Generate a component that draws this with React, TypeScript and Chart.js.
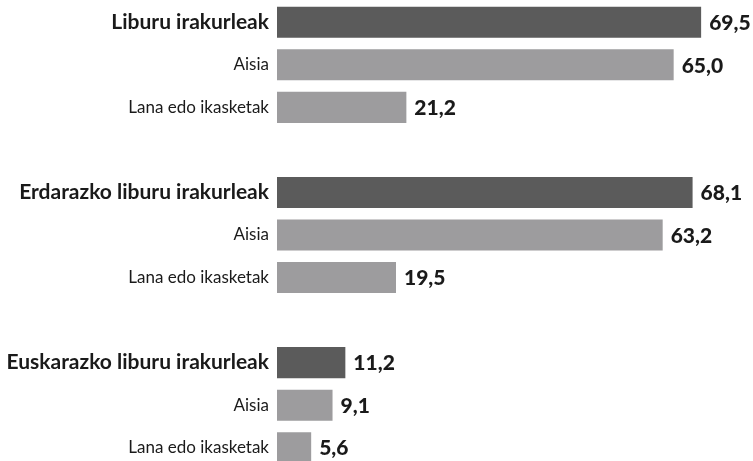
import React, { useEffect, useRef } from "react";
import { Chart, registerables } from "chart.js";

Chart.register(...registerables);

const categories = [
  "Liburu irakurleak",
  "Aisia",
  "Lana edo ikasketak",
  "",
  "Erdarazko liburu irakurleak",
  "Aisia",
  "Lana edo ikasketak",
  "",
  "Euskarazko liburu irakurleak",
  "Aisia",
  "Lana edo ikasketak",
];
const values: (number | null)[] = [69.5, 65.0, 21.2, null, 68.1, 63.2, 19.5, null, 11.2, 9.1, 5.6];
const isHeader = [true, false, false, false, true, false, false, false, true, false, false];

const DARK = "#5b5b5b";
const LIGHT = "#9d9c9e";
const FONT = "Lato, 'Liberation Sans', sans-serif";

const valueLabels = {
  id: "valueLabels",
  afterDatasetsDraw(chart: any) {
    const ctx = chart.ctx;
    const meta = chart.getDatasetMeta(0);
    ctx.save();
    ctx.font = `900 21px ${FONT}`;
    ctx.fillStyle = "#1a1a1a";
    ctx.textBaseline = "middle";
    ctx.textAlign = "left";
    meta.data.forEach((bar: any, i: number) => {
      const v = values[i];
      if (v === null || v === undefined) return;
      const txt = v.toFixed(1).replace(".", ",");
      const w = ctx.measureText(txt).width;
      let x = bar.x + 8;
      if (x + w > chart.width) x = chart.width - w;
      ctx.fillText(txt, x, bar.y + 1);
    });
    ctx.restore();
  },
};

export default function App() {
  const ref = useRef<HTMLCanvasElement>(null);
  useEffect(() => {
    if (!ref.current) return;
    const chart = new Chart(ref.current, {
      type: "bar",
      data: {
        labels: categories,
        datasets: [
          {
            data: values as any,
            backgroundColor: isHeader.map((h) => (h ? DARK : LIGHT)),
            barPercentage: 0.73,
            categoryPercentage: 1,
          },
        ],
      },
      options: {
        indexAxis: "y",
        animation: false,
        responsive: false,
        maintainAspectRatio: false,
        layout: { padding: { top: 1, bottom: 1, left: 0, right: 0 } },
        plugins: { legend: { display: false }, tooltip: { enabled: false } },
        scales: {
          x: { display: false, min: 0, max: 78 },
          y: {
            grid: { display: false, drawTicks: false },
            border: { display: false },
            ticks: {
              padding: 8,
              color: "#1a1a1a",
              font: (c: any) =>
                isHeader[c.index]
                  ? { family: FONT, size: 21, weight: "bold" }
                  : { family: FONT, size: 17, weight: "normal" },
            },
            afterFit: (scale: any) => {
              scale.width = 277;
              scale.paddingTop = 0;
              scale.paddingBottom = 0;
            },
          },
        },
      },
      plugins: [valueLabels],
    });
    return () => chart.destroy();
  }, []);
  return (
    <div style={{ position: "absolute", left: 0, top: 0, width: 753, height: 461, overflow: "hidden", background: "#fff" }}>
      <canvas ref={ref} width={753} height={470} style={{ display: "block" }} />
    </div>
  );
}
